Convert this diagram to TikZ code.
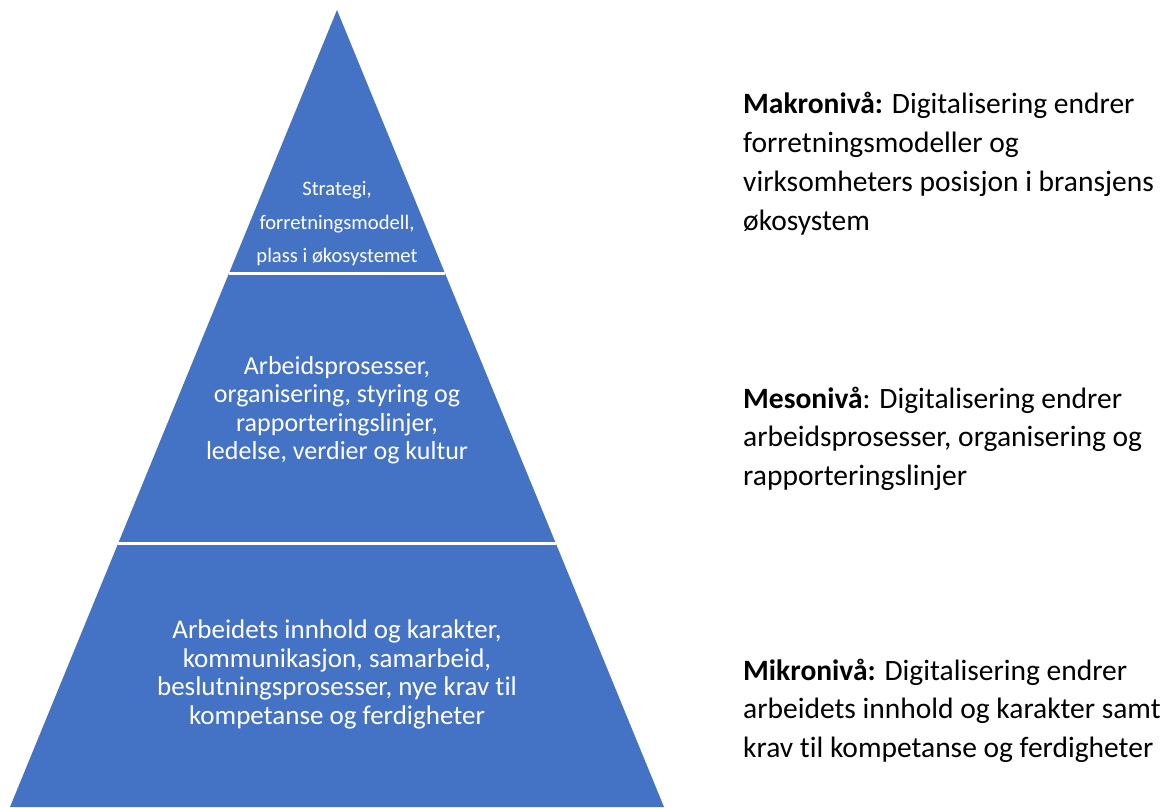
\documentclass[tikz,border=0pt]{standalone}
\usepackage{fontspec}
\setmainfont{Carlito}[Ligatures=NoCommon]
\usepackage{tikz}
\usetikzlibrary{calc}
\definecolor{pyrblue}{HTML}{4472C4}

\begin{document}
\begin{tikzpicture}[x=1pt,y=-1pt,
  sep/.style={draw=white,line width=3pt},
  bandtxt/.style={text=white,align=center,inner sep=0pt},
  lvltxt/.style={anchor=west,align=left,inner sep=0pt,font=\fontsize{29.5}{38.7}\selectfont}]
\useasboundingbox (0,0) rectangle (1168,807);

% pyramid
\coordinate (apex) at (337,10);
\coordinate (bl) at (10,807);
\coordinate (br) at (664,807);
\fill[pyrblue] (apex) -- (bl) -- (br) -- cycle;
\draw[sep] ($(apex)!0.3312!(bl)$) -- ($(apex)!0.3312!(br)$);
\draw[sep] ($(apex)!0.670!(bl)$) -- ($(apex)!0.670!(br)$);

% band texts
\node[bandtxt,font=\fontsize{20.6}{33.5}\selectfont] (topband) at (337,224)
   {Strategi,\\forretningsmodell,\\plass i økosystemet};
\node[bandtxt,font=\fontsize{26}{28.5}\selectfont] (midband) at (337,410)
   {Arbeidsprosesser,\\organisering, styring og\\rapporteringslinjer,\\ledelse, verdier og kultur};
\node[bandtxt,font=\fontsize{27}{28.4}\selectfont] (botband) at (337,674.5)
   {Arbeidets innhold og karakter,\\kommunikasjon, samarbeid,\\beslutningsprosesser, nye krav til\\kompetanse og ferdigheter};

% levels
\node[lvltxt] (makro) at (743,163.7)
   {\textbf{Makronivå:} Digitalisering endrer\\forretningsmodeller og\\virksomheters posisjon i bransjens\\økosystem};
\node[lvltxt] (meso) at (743,438.7)
   {\textbf{Mesonivå}: Digitalisering endrer\\arbeidsprosesser, organisering og\\rapporteringslinjer};
\node[lvltxt] (mikro) at (743,710.7)
   {\textbf{Mikronivå:} Digitalisering endrer\\arbeidets innhold og karakter samt\\krav til kompetanse og ferdigheter};
\end{tikzpicture}
\end{document}
